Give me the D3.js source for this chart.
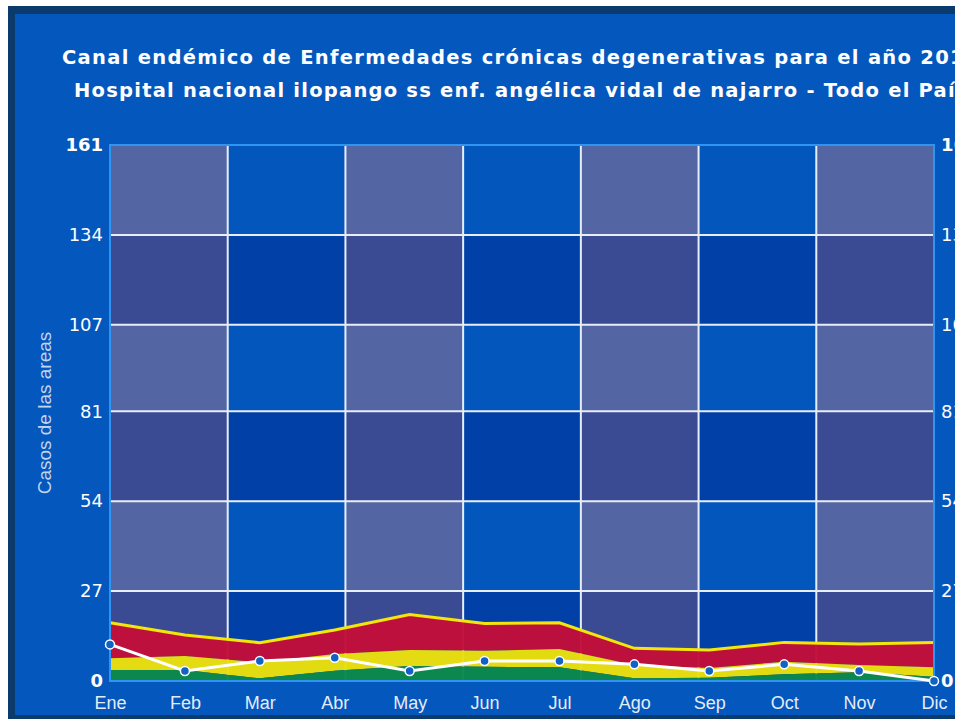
<!DOCTYPE html>
<html>
<head>
<meta charset="utf-8">
<script src="https://cdn.jsdelivr.net/npm/d3@7"></script>
<style>
  html, body { margin: 0; padding: 0; background: #ffffff; overflow: hidden; }
  svg { display: block; }
</style>
</head>
<body>
<svg id="chart"></svg>
<script>
// datos del canal endémico
const meses = ["Ene", "Feb", "Mar", "Abr", "May", "Jun", "Jul", "Ago", "Sep", "Oct", "Nov", "Dic"];
const zonaExito = [3.3, 3.3, 0.8, 3.1, 4.5, 4.3, 4.1, 0.8, 1.0, 2.0, 2.6, 1.3];
const zonaSeguridad = [6.8, 7.5, 5.6, 8.1, 9.3, 9.1, 9.6, 4.8, 3.9, 5.8, 4.8, 4.1];
const zonaAlarma = [17.5, 13.8, 11.5, 15.3, 20.0, 17.3, 17.5, 9.8, 9.3, 11.6, 11.1, 11.6];
const casos = [11, 3, 6, 7, 3, 6, 6, 5, 3, 5, 3, 0];
const yTicks = [0, 27, 54, 81, 107, 134, 161];
const titulo1 = "Canal endémico de Enfermedades crónicas degenerativas para el año 2013";
const titulo2 = "Hospital nacional ilopango ss enf. angélica vidal de najarro - Todo el País";

const W = 955, H = 719;
const plot = { left: 110, right: 934, top: 145, bottom: 681 };

const svg = d3.select("#chart").attr("width", W).attr("height", H);

// marco
svg.append("rect").attr("x", 8).attr("y", 6).attr("width", W).attr("height", H - 6).attr("fill", "#0b3b6c");
svg.append("rect").attr("x", 15).attr("y", 14).attr("width", W).attr("height", 701).attr("fill", "#0357bd");

const x = d3.scalePoint().domain(meses).range([plot.left, plot.right]);
const y = d3.scaleLinear().domain([0, 161]).range([plot.bottom, plot.top]);
const cols = d3.scaleBand().domain(d3.range(7)).range([plot.left, plot.right]);

// celdas de fondo
const celdas = [];
for (let r = 0; r < yTicks.length - 1; r++) {
    for (let c = 0; c < 7; c++) celdas.push({ r, c });
}
const colores = [["#5366a3", "#0256bc"], ["#3a4a93", "#0040a7"]];
svg.append("g").selectAll("rect")
    .data(celdas)
    .join("rect")
    .attr("x", d => cols(d.c))
    .attr("width", cols.bandwidth())
    .attr("y", d => y(yTicks[yTicks.length - 1 - d.r]))
    .attr("height", d => y(yTicks[yTicks.length - 2 - d.r]) - y(yTicks[yTicks.length - 1 - d.r]))
    .attr("fill", d => colores[(yTicks.length - 2 - d.r) % 2 === 0 ? 1 : 0][d.c % 2]);

// rejilla
const grid = svg.append("g").attr("stroke", "#e8eef8").attr("stroke-width", 2);
grid.selectAll("line.h")
    .data(yTicks.slice(1, -1))
    .join("line")
    .attr("class", "h")
    .attr("x1", plot.left).attr("x2", plot.right)
    .attr("y1", d => y(d)).attr("y2", d => y(d));
grid.selectAll("line.v")
    .data(d3.range(1, 7))
    .join("line")
    .attr("class", "v")
    .attr("x1", d => cols(d)).attr("x2", d => cols(d))
    .attr("y1", plot.top).attr("y2", plot.bottom);

// zonas
const area = (lo, hi) => d3.area()
    .x((d, i) => x(meses[i]))
    .y0((d, i) => y(lo ? lo[i] : 0))
    .y1((d, i) => y(hi[i]));

const zonas = svg.append("g").attr("opacity", 0.97);
zonas.append("path").datum(meses).attr("d", area(zonaSeguridad, zonaAlarma)).attr("fill", "#c20f3a");
zonas.append("path").datum(meses).attr("d", area(zonaExito, zonaSeguridad)).attr("fill", "#ebe00e");
zonas.append("path").datum(meses).attr("d", area(null, zonaExito)).attr("fill", "#0b8a4c");

svg.append("path")
    .datum(zonaAlarma)
    .attr("d", d3.line().x((d, i) => x(meses[i])).y(d => y(d)))
    .attr("fill", "none")
    .attr("stroke", "#f2e60a")
    .attr("stroke-width", 3);

// borde del área de trazado
svg.append("rect")
    .attr("x", plot.left).attr("y", plot.top)
    .attr("width", plot.right - plot.left).attr("height", plot.bottom - plot.top)
    .attr("fill", "none").attr("stroke", "#2f95f0").attr("stroke-width", 2);

// casos del año
svg.append("path")
    .datum(casos)
    .attr("d", d3.line().x((d, i) => x(meses[i])).y(d => y(d)))
    .attr("fill", "none")
    .attr("stroke", "#ffffff")
    .attr("stroke-width", 3);
svg.append("g").selectAll("circle")
    .data(casos)
    .join("circle")
    .attr("cx", (d, i) => x(meses[i]))
    .attr("cy", d => y(d))
    .attr("r", 4.5)
    .attr("fill", "#1261c4")
    .attr("stroke", "#ffffff")
    .attr("stroke-width", 1.5);

// ejes
const axisL = svg.append("g")
    .attr("transform", `translate(${plot.left},0)`)
    .call(d3.axisLeft(y).tickValues(yTicks).tickSize(0).tickPadding(7));
const axisR = svg.append("g")
    .attr("transform", `translate(${plot.right},0)`)
    .call(d3.axisRight(y).tickValues(yTicks).tickSize(0).tickPadding(7));
[axisL, axisR].forEach(a => {
    a.select(".domain").remove();
    a.selectAll("text")
        .attr("fill", "#ffffff")
        .style("font-family", "'DejaVu Sans', sans-serif")
        .style("font-size", "18px")
        .style("font-weight", d => (d === 0 || d === 161) ? "bold" : "normal");
});

const axisB = svg.append("g")
    .attr("transform", `translate(0,${plot.bottom})`)
    .call(d3.axisBottom(x).tickSize(0).tickPadding(15));
axisB.select(".domain").remove();
axisB.selectAll("text")
    .attr("fill", "#e4ecf8")
    .style("font-family", "'Liberation Sans', Arial, sans-serif")
    .style("font-size", "18px");

svg.append("text")
    .attr("transform", `translate(51,${(plot.top + plot.bottom) / 2}) rotate(-90)`)
    .attr("text-anchor", "middle")
    .attr("fill", "#c2d4ee")
    .style("font-family", "'Liberation Sans', Arial, sans-serif")
    .style("font-size", "19px")
    .text("Casos de las areas");

// título (se recorta por la derecha igual que la imagen)
function addTitle(texto, prefijo, x0, x1, baseline) {
    const t = svg.append("text")
        .attr("x", x0).attr("y", baseline)
        .attr("fill", "#ffffff")
        .style("font-family", "'DejaVu Sans', Verdana, sans-serif")
        .style("font-weight", "bold")
        .style("font-size", "19.5px")
        .text(prefijo);
    const w = t.node().getComputedTextLength();
    const ls = Math.max(0, (x1 - x0 - w) / prefijo.length);
    t.style("letter-spacing", ls + "px").text(texto);
}
addTitle(titulo1, "Canal endémico de Enfermedades crónicas degenerativas para el año 20", 62, 950, 64);
addTitle(titulo2, "Hospital nacional ilopango ss enf. angélica vidal de najarro - Todo el Pa", 74, 948, 97);
</script>
</body>
</html>
